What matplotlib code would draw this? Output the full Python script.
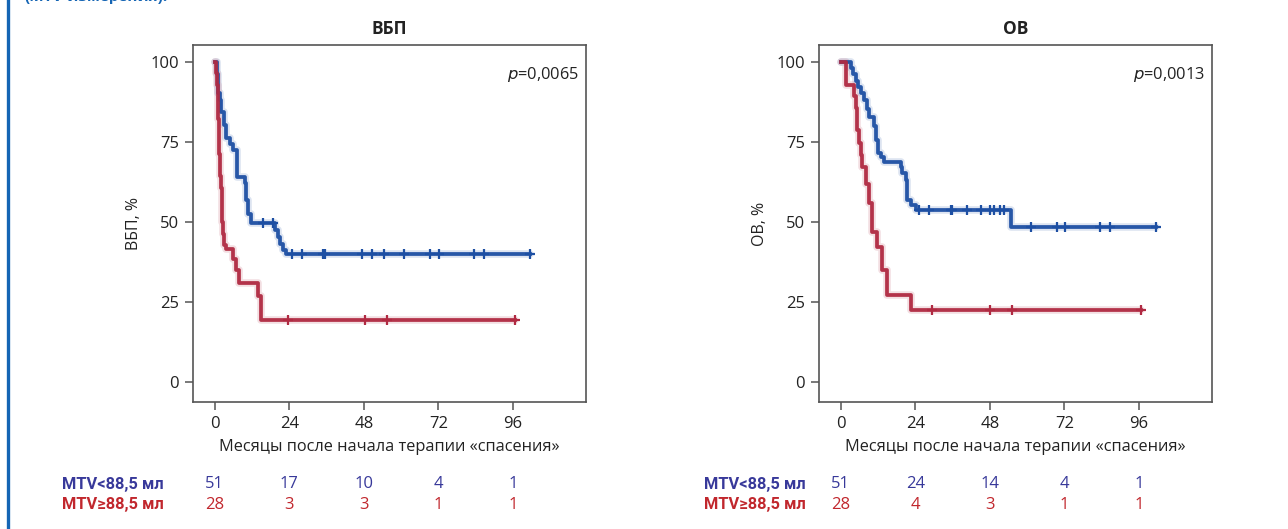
import numpy as np
import matplotlib
matplotlib.use("Agg")
import matplotlib.pyplot as plt
import matplotlib.transforms as mtransforms
from matplotlib.lines import Line2D

plt.rcParams['font.family'] = ['Open Sans', 'DejaVu Sans']

# ---------------- data ----------------
panel_titles = ["ВБП", "ОВ"]
y_labels = ["ВБП, %", "ОВ, %"]
x_label = "Месяцы после начала терапии «спасения»"
p_values = ["0,0065", "0,0013"]
x_ticks = [0, 24, 48, 72, 96]
y_ticks = [0, 25, 50, 75, 100]
group_labels = ["MTV<88,5 мл", "MTV≥88,5 мл"]

# ВБП, MTV<88,5
pfs_low_t = [0, 0.6, 0.9, 1.2, 1.6, 2.1, 3.0, 3.7, 4.8, 5.9, 7.2, 9.7, 10.2, 10.8, 11.8, 19.4, 20.3, 21.0, 22.0, 23.0]
pfs_low_s = [100, 96.1, 92.2, 90.2, 88.2, 84.4, 80.4, 76.4, 74.5, 72.5, 64.0, 62.1, 57.0, 52.5, 49.6, 47.5, 45.4, 43.3, 41.3, 40.0]
pfs_low_end = 101.6
pfs_low_cens = [15.5, 18.7, 24.9, 28.1, 35.0, 35.4, 47.4, 50.6, 54.4, 60.8, 69.4, 72.1, 83.4, 86.6, 101.6]

# ВБП, MTV>=88,5
pfs_high_t = [0, 0.5, 0.7, 0.9, 1.1, 1.3, 1.5, 1.6, 1.8, 2.0, 2.2, 2.4, 2.7, 3.0, 3.5, 5.8, 7.0, 7.7, 13.9, 15.0]
pfs_high_s = [100, 96.4, 92.9, 89.3, 82.1, 75.0, 71.4, 67.9, 64.3, 60.7, 57.1, 50.0, 46.4, 42.9, 41.5, 38.5, 35.0, 31.0, 27.0, 19.4]
pfs_high_end = 96.6
pfs_high_cens = [23.6, 48.4, 55.4, 96.6]

# ОВ, MTV<88,5
os_low_t = [0, 3.2, 4.0, 4.8, 5.6, 6.4, 7.5, 8.3, 9.1, 10.7, 11.3, 12.0, 12.9, 13.9, 19.3, 19.8, 20.9, 21.4, 22.5, 24.1, 54.7]
os_low_s = [100, 98.0, 96.1, 94.1, 92.2, 90.2, 88.2, 85.4, 82.9, 80.0, 75.6, 71.5, 70.4, 68.8, 67.3, 65.3, 63.0, 57.0, 55.3, 53.8, 48.5]
os_low_end = 101.6
os_low_cens = [25.2, 28.4, 35.4, 35.9, 40.7, 45.0, 48.2, 49.3, 51.4, 52.5, 61.1, 69.7, 72.3, 83.6, 86.8, 101.6]

# ОВ, MTV>=88,5
os_high_t = [0, 1.6, 4.3, 4.8, 5.3, 5.9, 6.4, 6.8, 8.0, 9.1, 10.2, 11.8, 13.4, 15.0, 22.5]
os_high_s = [100, 92.9, 89.3, 85.7, 78.6, 74.6, 71.0, 67.3, 62.0, 55.8, 47.0, 42.3, 35.0, 27.2, 22.5]
os_high_end = 96.5
os_high_cens = [29.5, 48.2, 55.2, 96.5]

risk_pfs_low = [51, 17, 10, 4, 1]
risk_pfs_high = [28, 3, 3, 1, 1]
risk_os_low = [51, 24, 14, 4, 1]
risk_os_high = [28, 4, 3, 1, 1]

# ---------------- styling ----------------
W, H = 1288, 529
BLUE_LINE = "#1d4fa3"
RED_LINE = "#b02a42"
BLUE_TXT = "#38399a"
RED_TXT = "#c1272d"
SPINE = "#555555"
TXT = "#222222"

fig = plt.figure(figsize=(W / 100, H / 100), dpi=100)
fig.patch.set_facecolor("white")


def fx(px):
    return px / W


def fy(py):
    return 1 - py / H


ax_boxes = [(193, 45, 586, 402), (819, 45, 1212, 402)]

# decorative page elements
fig.add_artist(Line2D([fx(7.5), fx(7.5)], [0, 1], color="#1565b4", lw=2.4,
                      transform=fig.transFigure))
fig.text(fx(24), fy(1.5), "(MTV-измерения).", color="#1565b4", fontsize=11,
         fontweight="bold", ha="left", va="baseline")

curves = [
    [(pfs_low_t, pfs_low_s, pfs_low_end, pfs_low_cens, BLUE_LINE),
     (pfs_high_t, pfs_high_s, pfs_high_end, pfs_high_cens, RED_LINE)],
    [(os_low_t, os_low_s, os_low_end, os_low_cens, BLUE_LINE),
     (os_high_t, os_high_s, os_high_end, os_high_cens, RED_LINE)],
]
risks = [(risk_pfs_low, risk_pfs_high), (risk_os_low, risk_os_high)]
label_right = [164, 806]


def step_value(t, s, x):
    idx = np.searchsorted(np.asarray(t), x, side="right") - 1
    return np.asarray(s)[idx]


for i, (x0, y0, x1, y1) in enumerate(ax_boxes):
    ax = fig.add_axes([fx(x0), fy(y1), fx(x1) - fx(x0), fy(y0) - fy(y1)])
    ax.set_xlim(-7, 119.5)
    ax.set_ylim(-6.2, 105.3)
    for sp in ax.spines.values():
        sp.set_color(SPINE)
        sp.set_linewidth(1.2)
    ax.set_xticks(x_ticks)
    ax.set_yticks(y_ticks)
    ax.tick_params(axis="both", direction="out", length=6, width=1.1,
                   color=SPINE, labelsize=12, labelcolor=TXT, pad=4)
    ax.set_title(panel_titles[i], fontsize=12.5, fontweight="bold", color=TXT, pad=8)
    ax.set_ylabel(y_labels[i], fontsize=11.5, color=TXT, labelpad=6)
    ax.set_xlabel(x_label, fontsize=11.8, color=TXT, labelpad=5)

    for t, s, end, cens, col in curves[i]:
        xs = list(t) + [end]
        ys = list(s) + [s[-1]]
        ax.step(xs, ys, where="post", color=col, lw=5.5, alpha=0.15,
                solid_capstyle="round", zorder=2)
        ax.step(xs, ys, where="post", color=col, lw=2.7, alpha=0.95, zorder=3)
        cy = [step_value(t, s, c) for c in cens]
        ax.plot(cens, cy, linestyle="none", marker="+", markersize=7,
                markeredgewidth=1.6, color=col, zorder=4)

    ax.text(0.982, 0.945, r"$\it{p}$" + "=" + p_values[i], transform=ax.transAxes,
            ha="right", va="top", fontsize=11.8, color=TXT)

    trans = mtransforms.blended_transform_factory(ax.transData, fig.transFigure)
    for row, (vals, col, ypx) in enumerate(zip(risks[i], [BLUE_TXT, RED_TXT], [484, 505])):
        fig.text(fx(label_right[i]), fy(ypx), group_labels[row], color=col,
                 fontsize=11.8, fontweight="bold", ha="right", va="center",
                 family=["Roboto", "DejaVu Sans"])
        for xt, v in zip(x_ticks, vals):
            ax.text(xt, fy(ypx), str(v), transform=trans, color=col,
                    fontsize=12, ha="center", va="center")

fig.savefig("out.png", dpi=100, facecolor="white")
